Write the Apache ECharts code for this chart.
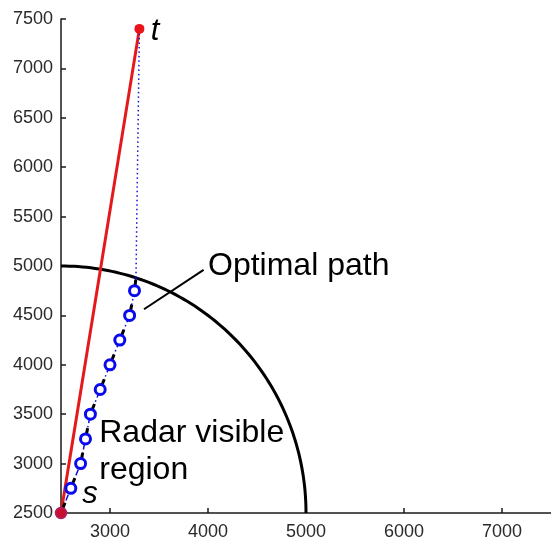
<!DOCTYPE html>
<html>
<head>
<meta charset="utf-8">
<script src="https://cdn.jsdelivr.net/npm/echarts@6/dist/echarts.min.js"></script>
<style>
  html, body { margin: 0; padding: 0; background: #fff; }
  #main { width: 551px; height: 542px; }
</style>
</head>
<body>
<div id="main"></div>
<script>
// path data
var pathX = [2500, 2600, 2700, 2750, 2800, 2900, 3000, 3100, 3200, 3250, 3265];
var pathY = [2500, 2750, 3000, 3250, 3500, 3750, 4000, 4250, 4500, 4750, 4880];
var startPt = [2500, 2500];
var endPt = [3300, 7400];
// radar region: centre x, centre y, radius
var radar = [2500, 2500, 2500];
var leaderX = [3955, 3347];
var leaderY = [4960, 4562];
var xTicks = [3000, 4000, 5000, 6000, 7000];
var labelText = ['Optimal path', 'Radar visible\nregion', 's', 't'];
var labelX = [4000, 2890, 2718, 3415];
var labelY = [5000, 3120, 2690, 7370];
var labelItalic = [0, 0, 1, 1];

var myChart = echarts.init(document.getElementById('main'));

var font = '"Liberation Sans", Arial, Helvetica, sans-serif';

var circlePts = [];
var quiver = [];
for (var i = 0; i < pathX.length; i++) {
    if (i > 0 && i < pathX.length - 1) circlePts.push([pathX[i], pathY[i]]);
    if (i < pathX.length - 1) quiver.push([pathX[i], pathY[i], pathX[i + 1], pathY[i + 1]]);
}
var dashPts = pathX.map(function (x, i) { return [x, pathY[i]]; });
var dotPts = [[pathX[pathX.length - 1], pathY[pathY.length - 1]], endPt];
var labelData = labelX.map(function (x, i) { return [x, labelY[i], labelItalic[i]]; });

var option = {
    animation: false,
    grid: { left: 61, top: 19, width: 493, height: 494 },
    xAxis: {
        type: 'value',
        min: 2500,
        max: 7500,
        axisLine: { show: true, lineStyle: { color: '#1a1a1a', width: 1.5 } },
        axisTick: { show: true, inside: true, length: 5, customValues: xTicks, lineStyle: { color: '#1a1a1a', width: 1.5 } },
        axisLabel: {
            customValues: xTicks, color: '#2a2a2a', fontSize: 18, fontFamily: font, margin: 10,
            formatter: function (v) { return String(v); }
        },
        splitLine: { show: false }
    },
    yAxis: {
        type: 'value',
        min: 2500,
        max: 7500,
        interval: 500,
        axisLine: { show: true, lineStyle: { color: '#1a1a1a', width: 1.5 } },
        axisTick: { show: true, inside: true, length: 5, lineStyle: { color: '#1a1a1a', width: 1.5 } },
        axisLabel: {
            color: '#2a2a2a', fontSize: 18, fontFamily: font, margin: 8,
            formatter: function (v) { return String(v); }
        },
        splitLine: { show: false }
    },
    series: [
        {
            // radar visible region boundary
            type: 'custom',
            data: [radar],
            clip: false,
            renderItem: function (params, api) {
                var cx = api.value(0), cy = api.value(1), r = api.value(2);
                var pts = [];
                for (var a = 0; a <= 90; a += 1) {
                    var t = a * Math.PI / 180;
                    pts.push(api.coord([cx + r * Math.sin(t), cy + r * Math.cos(t)]));
                }
                return {
                    type: 'polyline',
                    shape: { points: pts },
                    style: { stroke: '#000', lineWidth: 3, fill: null }
                };
            },
            z: 2
        },
        {
            // straight line s -> t
            type: 'line',
            data: [startPt, endPt],
            symbol: 'none',
            lineStyle: { color: '#e4191c', width: 3 },
            z: 3
        },
        {
            type: 'line',
            data: dashPts,
            symbol: 'none',
            lineStyle: { color: '#1010e0', width: 1.5, type: [6, 3, 1.5, 3] },
            z: 4
        },
        {
            type: 'line',
            data: dotPts,
            symbol: 'none',
            lineStyle: { color: '#1010d0', width: 1.5, type: [1.5, 3] },
            z: 4
        },
        {
            // short black heading marks
            type: 'custom',
            data: quiver,
            clip: false,
            renderItem: function (params, api) {
                var p = api.coord([api.value(0), api.value(1)]);
                var q = api.coord([api.value(2), api.value(3)]);
                var dx = q[0] - p[0], dy = q[1] - p[1];
                var len = Math.sqrt(dx * dx + dy * dy);
                var L = 11;
                return {
                    type: 'line',
                    shape: { x1: p[0], y1: p[1], x2: p[0] + dx / len * L, y2: p[1] + dy / len * L },
                    style: { stroke: '#000', lineWidth: 3 }
                };
            },
            z: 5
        },
        {
            type: 'scatter',
            data: circlePts,
            symbol: 'circle',
            symbolSize: 10,
            itemStyle: { color: '#fff', borderColor: '#0a0aee', borderWidth: 3, opacity: 1 },
            z: 6
        },
        {
            type: 'scatter',
            data: [startPt],
            symbolSize: 11,
            clip: false,
            itemStyle: { color: '#c8102e', borderColor: '#b0206a', borderWidth: 1.5, opacity: 1 },
            z: 7
        },
        {
            type: 'scatter',
            data: [endPt],
            symbolSize: 10,
            clip: false,
            itemStyle: { color: '#e8141a', opacity: 1 },
            z: 7
        },
        {
            // leader for "Optimal path"
            type: 'line',
            data: leaderX.map(function (x, i) { return [x, leaderY[i]]; }),
            symbol: 'none',
            lineStyle: { color: '#000', width: 2 },
            z: 5
        },
        {
            // text annotations
            type: 'custom',
            data: labelData,
            clip: false,
            renderItem: function (params, api) {
                var p = api.coord([api.value(0), api.value(1)]);
                var italic = api.value(2) === 1;
                return {
                    type: 'text',
                    x: p[0],
                    y: p[1],
                    style: {
                        text: labelText[params.dataIndex],
                        fill: '#000',
                        font: (italic ? 'italic ' : '') + (italic ? 31 : 32) + 'px ' + font,
                        lineHeight: 37,
                        align: 'left',
                        verticalAlign: 'middle'
                    }
                };
            },
            z: 8
        }
    ]
};

myChart.setOption(option);
</script>
</body>
</html>
